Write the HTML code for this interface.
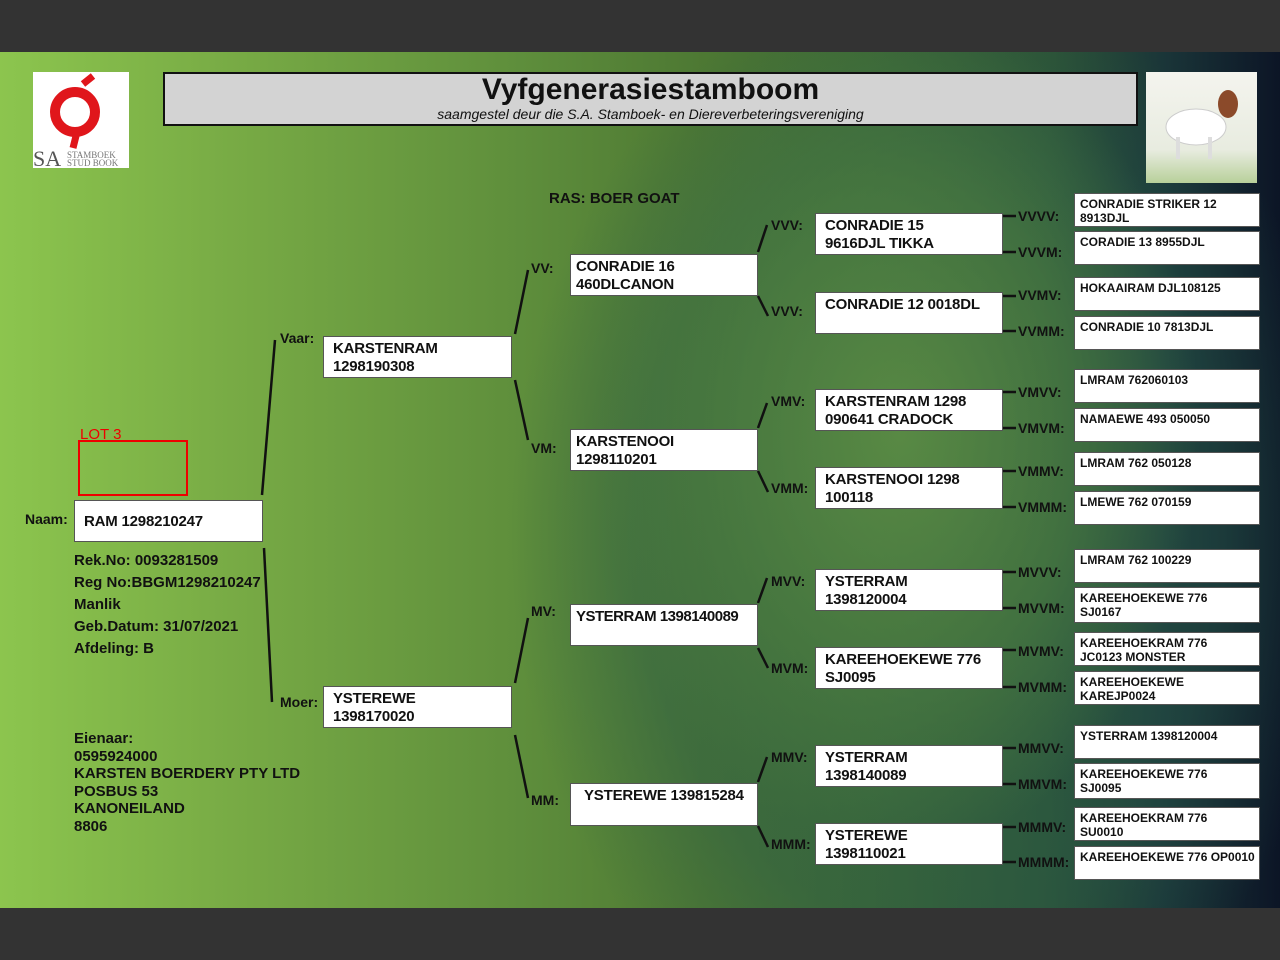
<!DOCTYPE html>
<html><head><meta charset="utf-8"><style>
*{margin:0;padding:0;box-sizing:border-box}
body{width:1280px;height:960px;background:#333;position:relative;overflow:hidden;font-family:"Liberation Sans",sans-serif}
#bg{position:absolute;left:0;top:52px;width:1280px;height:856px;
background:
radial-gradient(ellipse 300px 420px at 900px 380px, rgba(100,150,70,0.75) 0%, rgba(80,130,65,0.55) 60%, rgba(0,0,0,0) 100%),
radial-gradient(ellipse 420px 560px at 930px 480px, rgba(50,100,70,0.55) 0%, rgba(40,90,75,0.4) 70%, rgba(0,0,0,0) 100%),
linear-gradient(90deg,#8cc54e 0%,#78ab45 18%,#5f8f3c 40%,#4d7833 55%,#3f6a33 68%,#2d5436 82%,#1a3538 91%,#0c1526 100%);}
.b{position:absolute;background:#fff;border:1px solid #555;font-weight:bold;color:#111;line-height:18px;font-size:15px;padding:3px 9px;white-space:nowrap;letter-spacing:-0.2px}
.s{font-size:12px;line-height:14px;padding:3px 5px;letter-spacing:0}
.l{position:absolute;font-weight:bold;color:#111;font-size:14px}
.t{position:absolute;font-weight:bold;color:#111;font-size:15px;line-height:22px}
</style></head><body>
<div id="bg"></div>
<div style="position:absolute;left:33px;top:72px;width:96px;height:96px;background:#fff">
<svg width="96" height="96"><circle cx="42" cy="40" r="20" fill="none" stroke="#e0161b" stroke-width="10"/><path d="M50 12 L60 4 M44 60 L40 76" stroke="#e0161b" stroke-width="7"/><text x="0" y="94" font-family="Liberation Serif" font-size="22" fill="#555">SA</text><text x="34" y="86" font-family="Liberation Serif" font-size="9" fill="#777">STAMBOEK</text><text x="34" y="94" font-family="Liberation Serif" font-size="9" fill="#777">STUD BOOK</text></svg></div>
<div style="position:absolute;left:163px;top:72px;width:975px;height:54px;background:#d3d3d3;border:2px solid #111;text-align:center">
<div style="font-size:30px;font-weight:bold;line-height:32px;color:#111">Vyfgenerasiestamboom</div>
<div style="font-size:14px;font-style:italic;line-height:16px;color:#111">saamgestel deur die S.A. Stamboek- en Diereverbeteringsvereniging</div></div>
<div style="position:absolute;left:1146px;top:72px;width:111px;height:111px;background:linear-gradient(#f4f4ee,#e8ece0 70%,#b8d09a)">
<svg width="111" height="111"><ellipse cx="50" cy="55" rx="30" ry="18" fill="#fff" stroke="#ccc"/><ellipse cx="82" cy="32" rx="10" ry="14" fill="#8b4a2a"/><rect x="30" y="65" width="4" height="22" fill="#ddd"/><rect x="62" y="65" width="4" height="22" fill="#ddd"/></svg></div>
<div class="l" style="left:549px;top:190px;font-size:15px">RAS: BOER GOAT</div>
<div style="position:absolute;left:80px;top:426px;color:#e00;font-size:15px">LOT 3</div>
<div style="position:absolute;left:78px;top:440px;width:110px;height:56px;border:2px solid #e00"></div>
<svg style="position:absolute;left:0;top:0" width="1280" height="960"><g stroke="#111" stroke-width="2.5" fill="none">
<path d="M262 495 L275 340 M264 548 L272 702 M515 334 L528 270 M515 380 L528 440 M515 683 L528 618 M515 735 L528 798 M758 252 L767 225 M758 296 L768 316 M758 428 L767 403 M758 471 L768 492 M758 603 L767 578 M758 648 L768 668 M758 782 L767 757 M758 826 L768 847"/>
<path d="M1003 216H1016M1003 252H1016M1003 296H1016M1003 331H1016M1003 392H1016M1003 428H1016M1003 471H1016M1003 507H1016M1003 572H1016M1003 608H1016M1003 650H1016M1003 687H1016M1003 748H1016M1003 784H1016M1003 827H1016M1003 862H1016"/></g></svg>
<div class="l" style="left:25px;top:511px">Naam:</div>
<div class="b" style="left:74px;top:500px;width:189px;height:42px;padding-top:12px">RAM 1298210247</div>
<div class="t" style="left:74px;top:550px">Rek.No: 0093281509<br>Reg No:BBGM1298210247<br>Manlik<br>Geb.Datum: 31/07/2021<br>Afdeling: B</div>
<div class="t" style="left:74px;top:730px;line-height:17.5px">Eienaar:<br>0595924000<br>KARSTEN BOERDERY PTY LTD<br>POSBUS 53<br>KANONEILAND<br>8806</div>
<div class="l" style="left:280px;top:330px">Vaar:</div>
<div class="b" style="left:323px;top:336px;width:189px;height:42px">KARSTENRAM<br>1298190308</div>
<div class="l" style="left:280px;top:694px">Moer:</div>
<div class="b" style="left:323px;top:686px;width:189px;height:42px">YSTEREWE<br>1398170020</div>
<div class="l" style="left:531px;top:260px">VV:</div>
<div class="b" style="left:570px;top:254px;width:188px;height:42px;padding-left:5px">CONRADIE 16<br>460DLCANON</div>
<div class="l" style="left:531px;top:440px">VM:</div>
<div class="b" style="left:570px;top:429px;width:188px;height:42px;padding-left:5px">KARSTENOOI<br>1298110201</div>
<div class="l" style="left:531px;top:603px">MV:</div>
<div class="b" style="left:570px;top:604px;width:188px;height:42px;padding-left:5px;letter-spacing:-0.5px">YSTERRAM 1398140089</div>
<div class="l" style="left:531px;top:792px">MM:</div>
<div class="b" style="left:570px;top:783px;width:188px;height:43px;padding-left:13px">YSTEREWE 139815284</div>
<div class="l" style="left:771px;top:217px">VVV:</div>
<div class="b" style="left:815px;top:213px;width:188px;height:42px">CONRADIE 15<br>9616DJL TIKKA</div>
<div class="l" style="left:771px;top:303px">VVV:</div>
<div class="b" style="left:815px;top:292px;width:188px;height:42px">CONRADIE 12 0018DL</div>
<div class="l" style="left:771px;top:393px">VMV:</div>
<div class="b" style="left:815px;top:389px;width:188px;height:42px">KARSTENRAM 1298<br>090641 CRADOCK</div>
<div class="l" style="left:771px;top:480px">VMM:</div>
<div class="b" style="left:815px;top:467px;width:188px;height:42px">KARSTENOOI 1298<br>100118</div>
<div class="l" style="left:771px;top:573px">MVV:</div>
<div class="b" style="left:815px;top:569px;width:188px;height:42px">YSTERRAM<br>1398120004</div>
<div class="l" style="left:771px;top:660px">MVM:</div>
<div class="b" style="left:815px;top:647px;width:188px;height:42px">KAREEHOEKEWE 776<br>SJ0095</div>
<div class="l" style="left:771px;top:749px">MMV:</div>
<div class="b" style="left:815px;top:745px;width:188px;height:42px">YSTERRAM<br>1398140089</div>
<div class="l" style="left:771px;top:836px">MMM:</div>
<div class="b" style="left:815px;top:823px;width:188px;height:42px">YSTEREWE<br>1398110021</div>
<div class="l" style="left:1018px;top:208px">VVVV:</div>
<div class="l" style="left:1018px;top:244px">VVVM:</div>
<div class="l" style="left:1018px;top:287px">VVMV:</div>
<div class="l" style="left:1018px;top:323px">VVMM:</div>
<div class="l" style="left:1018px;top:384px">VMVV:</div>
<div class="l" style="left:1018px;top:420px">VMVM:</div>
<div class="l" style="left:1018px;top:463px">VMMV:</div>
<div class="l" style="left:1018px;top:499px">VMMM:</div>
<div class="l" style="left:1018px;top:564px">MVVV:</div>
<div class="l" style="left:1018px;top:600px">MVVM:</div>
<div class="l" style="left:1018px;top:643px">MVMV:</div>
<div class="l" style="left:1018px;top:679px">MVMM:</div>
<div class="l" style="left:1018px;top:740px">MMVV:</div>
<div class="l" style="left:1018px;top:776px">MMVM:</div>
<div class="l" style="left:1018px;top:819px">MMMV:</div>
<div class="l" style="left:1018px;top:854px">MMMM:</div>
<div class="b s" style="left:1074px;top:193px;width:186px;height:34px">CONRADIE STRIKER 12<br>8913DJL</div>
<div class="b s" style="left:1074px;top:231px;width:186px;height:34px">CORADIE 13 8955DJL</div>
<div class="b s" style="left:1074px;top:277px;width:186px;height:34px">HOKAAIRAM DJL108125</div>
<div class="b s" style="left:1074px;top:316px;width:186px;height:34px">CONRADIE 10 7813DJL</div>
<div class="b s" style="left:1074px;top:369px;width:186px;height:34px">LMRAM 762060103</div>
<div class="b s" style="left:1074px;top:408px;width:186px;height:34px">NAMAEWE 493 050050</div>
<div class="b s" style="left:1074px;top:452px;width:186px;height:34px">LMRAM 762 050128</div>
<div class="b s" style="left:1074px;top:491px;width:186px;height:34px">LMEWE 762 070159</div>
<div class="b s" style="left:1074px;top:549px;width:186px;height:34px">LMRAM 762 100229</div>
<div class="b s" style="left:1074px;top:587px;width:186px;height:36px">KAREEHOEKEWE 776<br>SJ0167</div>
<div class="b s" style="left:1074px;top:632px;width:186px;height:34px">KAREEHOEKRAM 776<br>JC0123 MONSTER</div>
<div class="b s" style="left:1074px;top:671px;width:186px;height:34px">KAREEHOEKEWE<br>KAREJP0024</div>
<div class="b s" style="left:1074px;top:725px;width:186px;height:34px">YSTERRAM 1398120004</div>
<div class="b s" style="left:1074px;top:763px;width:186px;height:36px">KAREEHOEKEWE 776<br>SJ0095</div>
<div class="b s" style="left:1074px;top:807px;width:186px;height:34px">KAREEHOEKRAM 776<br>SU0010</div>
<div class="b s" style="left:1074px;top:846px;width:186px;height:34px;white-space:nowrap">KAREEHOEKEWE 776 OP0010</div>
</body></html>
